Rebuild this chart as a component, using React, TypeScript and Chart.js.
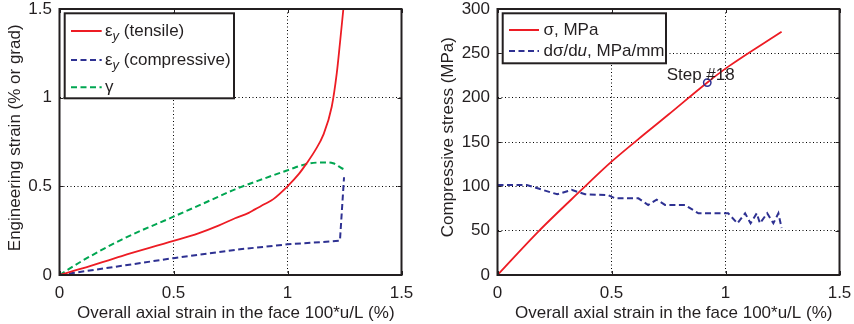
import React, { useEffect, useRef } from "react";
import { Chart, registerables } from "chart.js";

Chart.register(...registerables);

// ---------- data: left panel (engineering strain) ----------
const STRAIN_X_TICKS = [0, 0.5, 1, 1.5];
const TENSILE_X = [0, 0.1, 0.273, 0.5, 0.609, 0.7, 0.77, 0.83, 0.857, 0.9, 0.938, 1.0, 1.05, 1.084, 1.12, 1.157, 1.194, 1.216, 1.23, 1.245];
const TENSILE_Y = [0, 0.037, 0.107, 0.192, 0.235, 0.28, 0.32, 0.35, 0.37, 0.4, 0.428, 0.5, 0.57, 0.63, 0.7, 0.79, 0.949, 1.137, 1.307, 1.5];
const COMPRESSIVE_X = [0, 0.5, 0.792, 1.0, 1.23, 1.248];
const COMPRESSIVE_Y = [0, 0.095, 0.145, 0.173, 0.193, 0.551];
const GAMMA_X = [0, 0.1, 0.273, 0.5, 0.66, 0.77, 0.9, 1.004, 1.084, 1.157, 1.2, 1.238, 1.248];
const GAMMA_Y = [0, 0.08, 0.2, 0.329, 0.42, 0.483, 0.545, 0.592, 0.626, 0.635, 0.63, 0.602, 0.596];

// ---------- data: right panel (compressive stress) ----------
const STRESS_X = [0, 0.179, 0.362, 0.5, 0.645, 0.75, 0.919, 1.012, 1.246];
const STRESS_Y = [0, 49, 94.5, 127.8, 159, 181, 216.9, 235, 274.4];
const SLOPE_X = [0, 0.128, 0.262, 0.325, 0.384, 0.486, 0.515, 0.618, 0.661, 0.698, 0.735, 0.822, 0.881, 1.012, 1.052, 1.086, 1.11, 1.137, 1.151, 1.183, 1.21, 1.232, 1.246];
const SLOPE_Y = [101.5, 101.5, 91, 96, 91, 90, 86.5, 86.5, 79, 85, 79, 79, 69.6, 69.6, 58.3, 69.6, 58.3, 69.6, 58.3, 69.6, 58.3, 69.6, 53];
const STEP_POINT = { x: 0.92, y: 217 };
const STEP_LABEL = "Step #18";
const STEP_LABEL_POS = { x: 0.742, y: 225.6 };

// ---------- styling ----------
const FONT = '"Liberation Sans", Arial, Helvetica, sans-serif';
const FS = 17;
const INK = "#231f20";
const GRID = "#000000";
const RED = "#ed1c24";
const BLUE = "#2e3192";
const GREEN = "#00a651";
const DASH = [6, 3.5];

type Part = { t: string; italic?: boolean; sub?: boolean };
type LegendItem = { color: string; dash: number[]; parts: Part[] };

const pts = (xs: number[], ys: number[]) => xs.map((x, i) => ({ x, y: ys[i] }));

function drawParts(ctx: CanvasRenderingContext2D, parts: Part[], x: number, baseline: number) {
  let cx = x;
  for (const p of parts) {
    const size = p.sub ? 13 : FS;
    ctx.font = `${p.italic ? "italic " : ""}${size}px ${FONT}`;
    ctx.textBaseline = "alphabetic";
    ctx.textAlign = "left";
    ctx.fillText(p.t, cx, baseline + (p.sub ? 4.5 : 0));
    cx += ctx.measureText(p.t).width;
  }
}

type PanelSpec = {
  id: string;
  left: number;
  yAxisW: number;
  padRight: number;
  yMin: number;
  yMax: number;
  yStep: number;
  datasets: any[];
  legend: { box: number[]; lineX: number[]; textX: number; rows: number[]; items: LegendItem[] };
  yTitle: string;
  yTitlePos: number[];
  xTitle: string;
  xTitlePos: number[];
  annotate?: boolean;
};

function makePlugin(spec: PanelSpec) {
  return {
    id: "frame-" + spec.id,
    afterDatasetsDraw(chart: any) {
      const { ctx, chartArea: a, scales } = chart;
      ctx.save();
      ctx.strokeStyle = INK;
      ctx.setLineDash([]);
      ctx.lineWidth = 1;
      const TL = 4;
      ctx.beginPath();
      for (const t of scales.x.ticks) {
        const p = Math.round(scales.x.getPixelForValue(t.value)) + 0.5;
        ctx.moveTo(p, a.bottom);
        ctx.lineTo(p, a.bottom - TL);
        ctx.moveTo(p, a.top);
        ctx.lineTo(p, a.top + TL);
      }
      for (const t of scales.y.ticks) {
        const p = Math.round(scales.y.getPixelForValue(t.value)) + 0.5;
        ctx.moveTo(a.left, p);
        ctx.lineTo(a.left + TL, p);
        ctx.moveTo(a.right, p);
        ctx.lineTo(a.right - TL, p);
      }
      ctx.stroke();
      ctx.lineWidth = 2;
      ctx.strokeRect(a.left, a.top, a.right - a.left, a.bottom - a.top);
      ctx.restore();
    },
    afterDraw(chart: any) {
      const { ctx, scales } = chart;
      ctx.save();
      ctx.fillStyle = INK;
      if (spec.annotate) {
        ctx.font = `${FS}px ${FONT}`;
        ctx.textAlign = "left";
        ctx.textBaseline = "middle";
        ctx.fillText(
          STEP_LABEL,
          scales.x.getPixelForValue(STEP_LABEL_POS.x),
          scales.y.getPixelForValue(STEP_LABEL_POS.y)
        );
      }
      const L = spec.legend;
      const [bx0, by0, bx1, by1] = L.box;
      ctx.fillStyle = "#ffffff";
      ctx.fillRect(bx0, by0, bx1 - bx0, by1 - by0);
      ctx.strokeStyle = INK;
      ctx.lineWidth = 2;
      ctx.setLineDash([]);
      ctx.strokeRect(bx0, by0, bx1 - bx0, by1 - by0);
      L.items.forEach((it, i) => {
        const y = L.rows[i];
        ctx.strokeStyle = it.color;
        ctx.lineWidth = 2;
        ctx.setLineDash(it.dash);
        ctx.beginPath();
        ctx.moveTo(L.lineX[0], y);
        ctx.lineTo(L.lineX[1], y);
        ctx.stroke();
        ctx.setLineDash([]);
        ctx.fillStyle = INK;
        drawParts(ctx, it.parts, L.textX, y + 4.8);
      });
      ctx.fillStyle = INK;
      ctx.font = `${FS}px ${FONT}`;
      ctx.textAlign = "center";
      ctx.textBaseline = "middle";
      ctx.fillText(spec.xTitle, spec.xTitlePos[0], spec.xTitlePos[1]);
      ctx.translate(spec.yTitlePos[0], spec.yTitlePos[1]);
      ctx.rotate(-Math.PI / 2);
      ctx.fillText(spec.yTitle, 0, 0);
      ctx.restore();
    },
  };
}

const fmt = (v: any) => `${+Number(v).toFixed(3)}`;

function makeConfig(spec: PanelSpec): any {
  const tickFont = { family: FONT, size: FS };
  return {
    type: "line",
    data: { datasets: spec.datasets },
    plugins: [makePlugin(spec)],
    options: {
      animation: false,
      responsive: false,
      devicePixelRatio: 1,
      events: [],
      layout: { padding: { left: 0, right: spec.padRight, top: 9, bottom: 0 } },
      plugins: { legend: { display: false }, tooltip: { enabled: false }, title: { display: false } },
      elements: { point: { radius: 0 }, line: { tension: 0 } },
      scales: {
        x: {
          type: "linear",
          min: 0,
          max: 1.5,
          afterBuildTicks: (s: any) => {
            s.ticks = STRAIN_X_TICKS.map((v) => ({ value: v }));
          },
          ticks: { font: tickFont, color: INK, padding: 8.5, maxRotation: 0, callback: fmt },
          grid: { color: GRID, lineWidth: 1, drawTicks: false },
          border: { display: false, dash: [1, 2.5] },
          afterFit: (s: any) => {
            s.height = 49;
            s.paddingLeft = 0;
            s.paddingRight = 0;
          },
        },
        y: {
          type: "linear",
          min: spec.yMin,
          max: spec.yMax,
          ticks: { stepSize: spec.yStep, font: tickFont, color: INK, padding: 7.5, callback: fmt },
          grid: { color: GRID, lineWidth: 1, drawTicks: false },
          border: { display: false, dash: [1, 2.5] },
          afterFit: (s: any) => {
            s.width = spec.yAxisW;
            s.paddingTop = 0;
            s.paddingBottom = 0;
          },
        },
      },
    },
  };
}

const lineDs = (label: string, data: any[], color: string, dash: number[], order: number, smooth: boolean) => ({
  label,
  data,
  borderColor: color,
  backgroundColor: color,
  borderWidth: dash.length ? 2 : 1.8,
  borderDash: dash,
  pointRadius: 0,
  fill: false,
  cubicInterpolationMode: smooth ? "monotone" : "default",
  tension: 0,
  order,
});

const LEFT_SPEC: PanelSpec = {
  id: "left",
  left: 0,
  yAxisW: 59.5,
  padRight: 25.5,
  yMin: 0,
  yMax: 1.5,
  yStep: 0.5,
  datasets: [
    lineDs("εy (tensile)", pts(TENSILE_X, TENSILE_Y), RED, [], 1, true),
    lineDs("εy (compressive)", pts(COMPRESSIVE_X, COMPRESSIVE_Y), BLUE, DASH, 2, false),
    lineDs("γ", pts(GAMMA_X, GAMMA_Y), GREEN, DASH, 3, true),
  ],
  legend: {
    box: [64.7, 13.3, 234, 98.3],
    lineX: [71, 101.7],
    textX: 105,
    rows: [31, 60, 87.3],
    items: [
      { color: RED, dash: [], parts: [{ t: "ε" }, { t: "y", italic: true, sub: true }, { t: " (tensile)" }] },
      { color: BLUE, dash: DASH, parts: [{ t: "ε" }, { t: "y", italic: true, sub: true }, { t: " (compressive)" }] },
      { color: GREEN, dash: DASH, parts: [{ t: "γ" }] },
    ],
  },
  yTitle: "Engineering strain (% or grad)",
  yTitlePos: [15.8, 137.8],
  xTitle: "Overall axial strain in the face 100*u/L (%)",
  xTitlePos: [235.8, 313.3],
};

const RIGHT_SPEC: PanelSpec = {
  id: "right",
  left: 427,
  yAxisW: 70.5,
  padRight: 14.5,
  yMin: 0,
  yMax: 300,
  yStep: 50,
  datasets: [
    {
      label: STEP_LABEL,
      data: [STEP_POINT],
      showLine: false,
      pointRadius: 3.7,
      pointBorderWidth: 1.5,
      pointBorderColor: BLUE,
      pointBackgroundColor: "rgba(0,0,0,0)",
      borderColor: BLUE,
      order: 0,
    },
    lineDs("σ, MPa", pts(STRESS_X, STRESS_Y), RED, [], 1, true),
    lineDs("dσ/du, MPa/mm", pts(SLOPE_X, SLOPE_Y), BLUE, DASH, 2, false),
  ],
  legend: {
    box: [75.7, 13.3, 239, 63.3],
    lineX: [82, 112],
    textX: 116.5,
    rows: [30, 51],
    items: [
      { color: RED, dash: [], parts: [{ t: "σ, MPa" }] },
      { color: BLUE, dash: DASH, parts: [{ t: "dσ/d" }, { t: "u", italic: true }, { t: ", MPa/mm" }] },
    ],
  },
  yTitle: "Compressive stress (MPa)",
  yTitlePos: [21.2, 137.2],
  xTitle: "Overall axial strain in the face 100*u/L (%)",
  xTitlePos: [246.7, 313.3],
  annotate: true,
};

function Panel({ spec }: { spec: PanelSpec }) {
  const ref = useRef<HTMLCanvasElement | null>(null);
  useEffect(() => {
    if (!ref.current) return;
    const chart = new Chart(ref.current, makeConfig(spec));
    return () => chart.destroy();
  }, [spec]);
  return (
    <canvas
      ref={ref}
      width={427}
      height={324}
      style={{ position: "absolute", left: spec.left, top: 0, width: 427, height: 324 }}
    />
  );
}

export default function App() {
  return (
    <div style={{ position: "fixed", left: 0, top: 0, width: 854, height: 324, background: "#ffffff", overflow: "hidden" }}>
      <Panel spec={LEFT_SPEC} />
      <Panel spec={RIGHT_SPEC} />
    </div>
  );
}
